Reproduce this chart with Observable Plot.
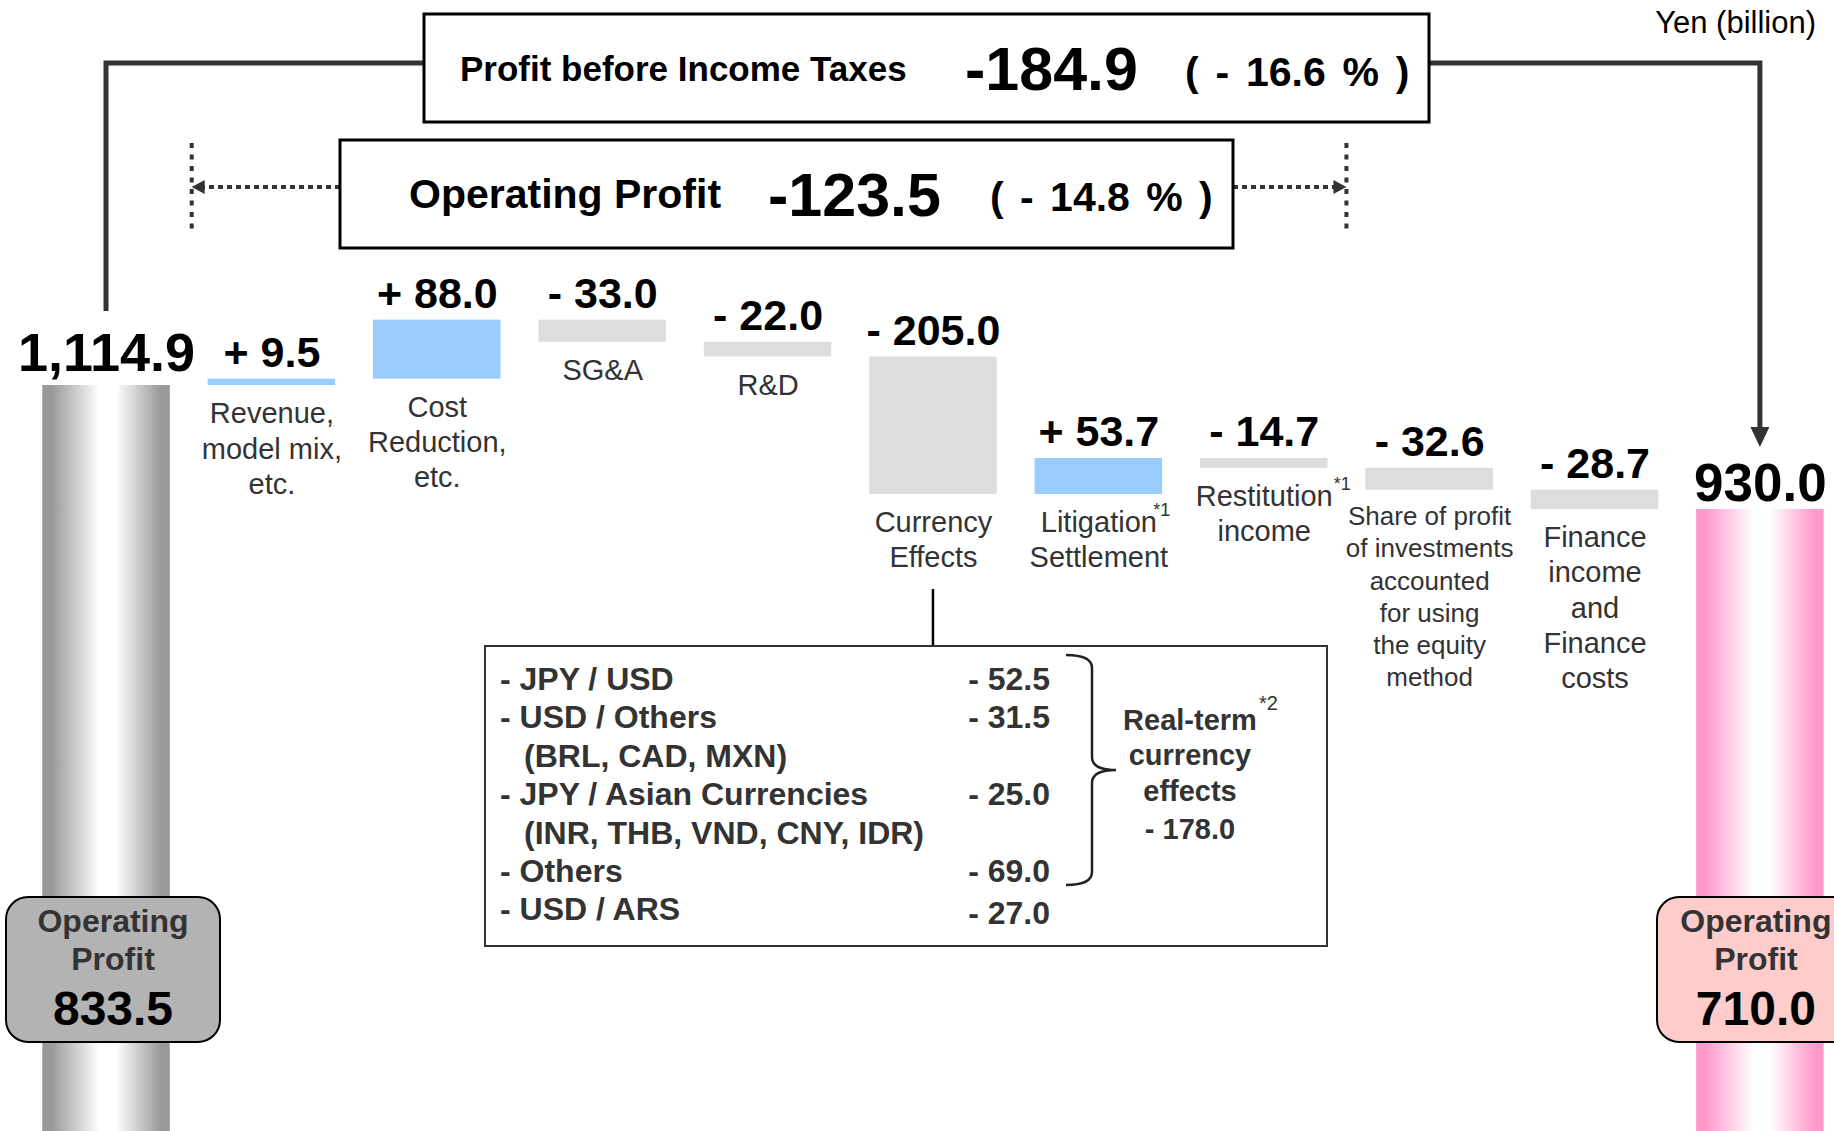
<!DOCTYPE html>
<html><head><meta charset="utf-8">
<script src="https://cdn.jsdelivr.net/npm/d3@7"></script>
<script src="https://cdn.jsdelivr.net/npm/@observablehq/plot@0.6"></script>
<style>
html,body{margin:0;padding:0;background:#fff;overflow:hidden;}
</style></head><body><div id="chart"></div>
<script>
// ---------- data ----------
const startValue = 1114.9;           // Profit before income taxes, previous year
const endValue = 930.0;              // Profit before income taxes, current year
const stepNames = [
  "Revenue,\nmodel mix,\netc.",
  "Cost\nReduction,\netc.",
  "SG&A",
  "R&D",
  "Currency\nEffects",
  "Litigation\nSettlement",
  "Restitution\nincome",
  "Share of profit\nof investments\naccounted\nfor using\nthe equity\nmethod",
  "Finance\nincome\nand\nFinance\ncosts"
];
const stepValues = [9.5, 88.0, -33.0, -22.0, -205.0, 53.7, -14.7, -32.6, -28.7];
const stepNotes = ["", "", "", "", "", "*1", "*1", "", ""];
const opStart = 833.5, opEnd = 710.0;
const opChange = -123.5, opChangePct = -14.8;
const pbtChange = -184.9, pbtChangePct = -16.6;
const fxNames = ["JPY / USD", "USD / Others", "JPY / Asian Currencies", "Others", "USD / ARS"];
const fxDetails = ["", "(BRL, CAD, MXN)", "(INR, THB, VND, CNY, IDR)", "", ""];
const fxValues = [-52.5, -31.5, -25.0, -69.0, -27.0];
const realTermValue = -178.0;
const unitLabel = "Yen (billion)";

// ---------- derived ----------
let level = startValue;
const steps = stepValues.map((v, k) => {
  const from = level; level += v;
  return {i: k + 1, name: stepNames[k], note: stepNotes[k], value: v,
          lo: Math.min(from, level), hi: Math.max(from, level),
          fill: v >= 0 ? "#99ccff" : "#dddddd"};
});
const totals = [
  {i: 0, value: startValue, fill: "url(#cylGray)"},
  {i: stepValues.length + 1, value: endValue, fill: "url(#cylPink)"}
];
const signed = v => (v >= 0 ? "+ " : "- ") + Math.abs(v).toFixed(1);
const HW = 0.3855;
const FONT = "'Liberation Sans', Arial, Helvetica, sans-serif";

const plot = Plot.plot({
  width: 1834, height: 1131, margin: 0,
  style: {fontFamily: FONT, background: "#fff"},
  x: {type: "linear", domain: [-0.641, 10.448], axis: null},
  y: {type: "linear", domain: [2.5, 1689], axis: null},
  color: {type: "identity"},
  marks: [
    Plot.rect(totals, {x1: d => d.i - HW, x2: d => d.i + HW, y1: 0, y2: "value", fill: "fill"}),
    Plot.rect(steps, {x1: d => d.i - HW, x2: d => d.i + HW, y1: "lo", y2: "hi", fill: "fill"}),
    Plot.text(steps, {x: "i", y: "hi", text: d => signed(d.value), lineAnchor: "bottom", dy: -12,
      fontSize: 43, fontWeight: "bold", fill: "#000"}),
    Plot.text(totals.slice(0, 1), {x: "i", y: "value", text: d => d3.format(",.1f")(d.value),
      lineAnchor: "bottom", dy: -15, fontSize: 54, fontWeight: "bold", fill: "#000"}),
    Plot.text(totals.slice(1), {x: "i", y: "value", text: d => d3.format(",.1f")(d.value),
      lineAnchor: "bottom", dy: -9, fontSize: 53, fontWeight: "bold", fill: "#000"}),
    Plot.text(steps.filter(d => d.i !== 8), {x: "i", y: "lo", text: "name", lineAnchor: "top", dy: 13,
      fontSize: 29, lineHeight: 1.21, fill: "#333"}),
    Plot.text(steps.filter(d => d.i === 8), {x: "i", y: "lo", text: "name", lineAnchor: "top", dy: 12,
      fontSize: 26, lineHeight: 1.24, fill: "#333"})
  ]
});
document.getElementById("chart").append(plot);

// ---------- annotations ----------
const xs = plot.scale("x"), ys = plot.scale("y");
const X = v => xs.apply(v), Y = v => ys.apply(v);
const svg = d3.select(plot);
const defs = svg.insert("defs", ":first-child");
function cyl(id, edge) {
  const g = defs.append("linearGradient").attr("id", id)
    .attr("x1", 0).attr("x2", 1).attr("y1", 0).attr("y2", 0);
  [[0, edge], [0.07, edge], [0.45, "#ffffff"], [0.58, "#ffffff"], [0.93, edge], [1, edge]]
    .forEach(([o, c]) => g.append("stop").attr("offset", o).attr("stop-color", c));
}
cyl("cylGray", "#999999");
cyl("cylPink", "#ff99cc");

const ann = svg.append("g").attr("font-family", FONT);
function txt(x, y, s, o = {}) {
  const t = ann.append("text").attr("x", x).attr("y", y).text(s)
    .attr("font-size", o.size || 28).attr("font-weight", o.weight || "bold")
    .attr("fill", o.fill || "#000").attr("text-anchor", o.anchor || "start");
  if (o.ws) t.attr("word-spacing", o.ws);
  return t;
}
const pctText = p => `( ${p < 0 ? "-" : "+"} ${Math.abs(p).toFixed(1)} % )`;

// superscript notes on step labels
steps.filter(d => d.note).forEach(d => {
  txt(X(d.i) + (d.i === 6 ? 55 : 70), Y(d.lo) + 13 + 20 - 11, d.note, {size: 18, weight: "normal", fill: "#333"});
});

// connectors from start / end totals to PBT box
const x0 = X(0), x10 = X(totals[1].i);
ann.append("path").attr("d", `M424,63H${x0}V${Y(startValue) - 74}`)
  .attr("fill", "none").attr("stroke", "#333").attr("stroke-width", 5);
ann.append("path").attr("d", `M1429,63H${x10}V${Y(endValue) - 80}`)
  .attr("fill", "none").attr("stroke", "#333").attr("stroke-width", 5);
ann.append("path").attr("d", `M${x10 - 9.5},${Y(endValue) - 82}L${x10 + 9.5},${Y(endValue) - 82}L${x10},${Y(endValue) - 62}Z`)
  .attr("fill", "#333");

// PBT box
ann.append("rect").attr("x", 424).attr("y", 14).attr("width", 1005).attr("height", 108)
  .attr("fill", "#fff").attr("stroke", "#000").attr("stroke-width", 3);
txt(460, 81, "Profit before Income Taxes", {size: 35});
txt(965, 90, pbtChange.toFixed(1), {size: 61});
txt(1185, 86, pctText(pbtChangePct), {size: 41, ws: 5.4});

// Operating profit box with dotted arrows
const xl = X(0.5), xr = X(7.5);
[[xl + 3], [xr]].forEach(([x]) => ann.append("line").attr("x1", x).attr("x2", x).attr("y1", 143).attr("y2", 232)
  .attr("stroke", "#333").attr("stroke-width", 4).attr("stroke-dasharray", "5 6.5"));
ann.append("line").attr("x1", 340).attr("x2", xl + 13).attr("y1", 187).attr("y2", 187)
  .attr("stroke", "#333").attr("stroke-width", 4).attr("stroke-dasharray", "5 4");
ann.append("line").attr("x1", 1233).attr("x2", xr - 10).attr("y1", 187).attr("y2", 187)
  .attr("stroke", "#333").attr("stroke-width", 4).attr("stroke-dasharray", "5 4");
ann.append("path").attr("d", `M${xl + 3},187L${xl + 16},180L${xl + 16},194Z`).attr("fill", "#333");
ann.append("path").attr("d", `M${xr},187L${xr - 13},180L${xr - 13},194Z`).attr("fill", "#333");
ann.append("rect").attr("x", 340).attr("y", 140).attr("width", 893).attr("height", 108)
  .attr("fill", "#fff").attr("stroke", "#000").attr("stroke-width", 3);
txt(409, 208, "Operating Profit", {size: 41});
txt(768, 216, opChange.toFixed(1), {size: 61});
txt(990, 211, pctText(opChangePct), {size: 41, ws: 5.0});

// unit
txt(1816, 33, unitLabel, {size: 31, weight: "normal", anchor: "end"});

// currency breakdown
const xc = X(5);
ann.append("line").attr("x1", xc).attr("x2", xc).attr("y1", 589).attr("y2", 646)
  .attr("stroke", "#000").attr("stroke-width", 2.5);
ann.append("rect").attr("x", 485).attr("y", 646).attr("width", 842).attr("height", 300)
  .attr("fill", "#fff").attr("stroke", "#333").attr("stroke-width", 2);
let row = 0;
fxNames.forEach((n, k) => {
  const yb = 690 + row * 38.4;
  txt(500, yb, "- " + n, {size: 32, fill: "#333"});
  txt(1050, yb + (k === fxNames.length - 1 ? 4 : 0), signed(fxValues[k]), {size: 32, fill: "#333", anchor: "end"});
  row++;
  if (fxDetails[k]) { txt(524, 690 + row * 38.4, fxDetails[k], {size: 32, fill: "#333"}); row++; }
});
ann.append("path").attr("d", "M1066,655Q1092,655 1092,668V757Q1092,770 1116,770Q1092,770 1092,783V872Q1092,885 1066,885")
  .attr("fill", "none").attr("stroke", "#222").attr("stroke-width", 2.5);
txt(1190, 730, "Real-term", {size: 29, fill: "#333", anchor: "middle"});
txt(1259, 710, "*2", {size: 20, weight: "normal", fill: "#333"});
txt(1190, 765, "currency", {size: 29, fill: "#333", anchor: "middle"});
txt(1190, 801, "effects", {size: 29, fill: "#333", anchor: "middle"});
txt(1190, 839, signed(realTermValue), {size: 29, fill: "#333", anchor: "middle"});

// operating profit badges on the total cylinders
[[0, opStart, "#b3b3b3", 7, 6], [totals[1].i, opEnd, "#ffcccc", -4, 1657]].forEach(([i, v, c, off, bx]) => {
  const cx = X(i) + off;
  ann.append("rect").attr("x", bx).attr("y", 897).attr("width", 214).attr("height", 145)
    .attr("rx", 22).attr("fill", c).attr("stroke", "#000").attr("stroke-width", 2);
  txt(cx, 932, "Operating", {size: 32, fill: "#333", anchor: "middle"});
  txt(cx, 970, "Profit", {size: 32, fill: "#333", anchor: "middle"});
  txt(cx, 1025, v.toFixed(1), {size: 48, anchor: "middle"});
});
</script></body></html>
